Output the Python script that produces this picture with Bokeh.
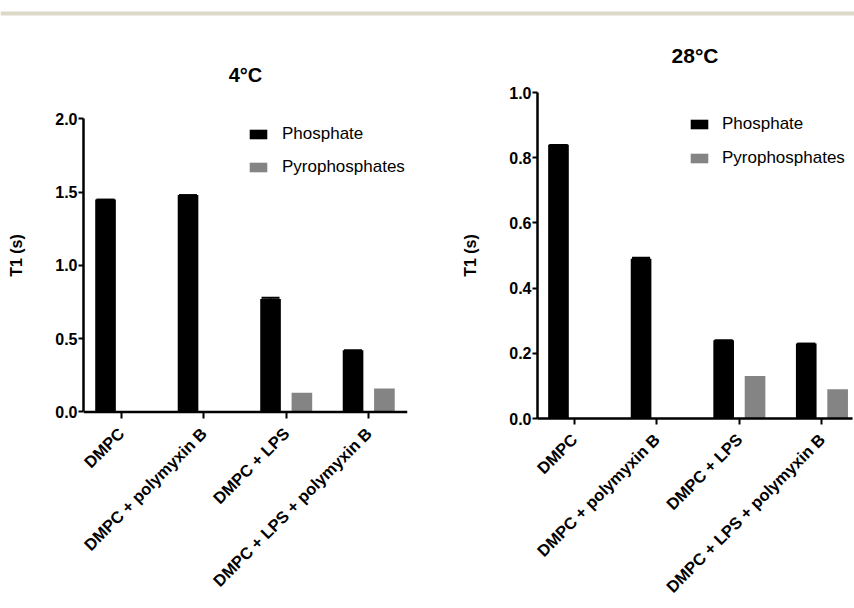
import math
import numpy as np
from bokeh.plotting import figure
from bokeh.models import (Range1d, FixedTicker, NumeralTickFormatter, Legend, LegendItem,
                          Whisker, ColumnDataSource, TeeHead, BoxAnnotation, Title, Span)
from bokeh.layouts import column, row
from bokeh.embed import file_html
from bokeh.resources import INLINE

# ---------------- data ----------------
categories = ["DMPC", "DMPC + polymyxin B", "DMPC + LPS", "DMPC + LPS + polymyxin B"]
series_names = ["Phosphate", "Pyrophosphates"]

phosphate_4C = [1.45, 1.48, 0.77, 0.42]
pyro_4C = [0.0, 0.0, 0.13, 0.16]
err_phosphate_4C = [0.0, 0.0, 0.01, 0.0]

phosphate_28C = [0.84, 0.49, 0.24, 0.23]
pyro_28C = [0.0, 0.0, 0.13, 0.09]
err_phosphate_28C = [0.0, 0.004, 0.0, 0.0]

yticks_4C = [0.0, 0.5, 1.0, 1.5, 2.0]
yticks_28C = [0.0, 0.2, 0.4, 0.6, 0.8, 1.0]

FONT = "Liberation Sans"
BLACK = "#000000"
GREY = "#848484"


def make_panel(title, phos, pyro, err, yticks, yr, base_gap, width, height, mb, xr,
               title_size, title_standoff, legend_loc, legend_spacing, label_standoff):
    x = np.arange(len(categories)) + 0.5
    phos = np.array(phos)
    src = ColumnDataSource(dict(
        x_phos=x - 0.19, x_pyro=x + 0.19, phos=phos, pyro=np.array(pyro),
        lower=phos, upper=phos + np.array(err)))
    p = figure(width=width, height=height, output_backend="svg", toolbar_location=None,
               x_range=Range1d(*xr), y_range=Range1d(*yr),
               min_border_left=mb[0], min_border_right=mb[1],
               min_border_top=mb[2], min_border_bottom=mb[3])
    p.add_layout(Title(text=title, align="center", text_font=FONT, text_font_size=title_size,
                       text_font_style="bold", text_color=BLACK, standoff=title_standoff), "above")
    r1 = p.vbar(x="x_phos", top="phos", width=0.25, source=src, fill_color=BLACK, line_color=None)
    r2 = p.vbar(x="x_pyro", top="pyro", width=0.25, source=src, fill_color=GREY, line_color=None)
    wh = Whisker(source=src, base="x_phos", lower="lower", upper="upper", dimension="height",
                 line_color=BLACK, line_width=1.5,
                 upper_head=TeeHead(size=18, line_color=BLACK, line_width=1.5),
                 lower_head=TeeHead(size=18, line_color=BLACK, line_width=1.5))
    p.add_layout(wh)

    p.grid.visible = False
    p.outline_line_color = None
    p.background_fill_color = "white"
    p.border_fill_color = "white"

    for ax in (p.xaxis[0], p.yaxis[0]):
        ax.axis_line_width = 2.5
        ax.axis_line_color = BLACK
        ax.major_tick_line_width = 2
        ax.major_tick_line_color = BLACK
        ax.major_tick_in = 0
        ax.minor_tick_line_color = None
        ax.major_label_text_font = FONT
        ax.major_label_text_font_style = "bold"
        ax.major_label_text_font_size = "16px"
        ax.major_label_text_color = BLACK

    xa = p.xaxis[0]
    xa.ticker = FixedTicker(ticks=list(x))
    xa.major_label_overrides = {float(v): c for v, c in zip(x, categories)}
    xa.major_label_orientation = math.pi / 4
    xa.major_label_text_font_size = "16.5px"
    xa.major_label_standoff = 12
    if base_gap > 0:
        # the zero line sits base_gap px above the frame bottom: draw it as a span,
        # and let the ticks run from it down to the frame edge
        xa.axis_line_color = None
        xa.major_tick_in = base_gap
        xa.major_tick_out = 0
        p.add_layout(Span(location=yticks[0], dimension="width", line_color=BLACK, line_width=2.5))
    else:
        xa.major_tick_out = 6

    ya = p.yaxis[0]
    ya.ticker = FixedTicker(ticks=yticks)
    ya.formatter = NumeralTickFormatter(format="0.0")
    ya.bounds = (yticks[0], yticks[-1])
    ya.major_tick_out = 5
    ya.major_label_standoff = 1
    ya.axis_label = "T1 (s)"
    ya.axis_label_text_font = FONT
    ya.axis_label_text_font_style = "bold"
    ya.axis_label_text_font_size = "16px"
    ya.axis_label_text_color = BLACK
    ya.axis_label_standoff = 27

    legend = Legend(items=[LegendItem(label=series_names[0], renderers=[r1]),
                           LegendItem(label=series_names[1], renderers=[r2])],
                    location=legend_loc, glyph_width=22, glyph_height=12,
                    label_text_font=FONT, label_text_font_size="17px", label_text_color=BLACK,
                    label_standoff=label_standoff, spacing=legend_spacing, padding=0, margin=0,
                    label_height=20, border_line_color=None, background_fill_alpha=0)
    p.add_layout(legend)
    return p


# both frames span the same vertical extent (the row aligns them);
# the 4°C axes sit inside it
left = make_panel("4°C", phosphate_4C, pyro_4C, err_phosphate_4C, yticks_4C, yr=(-0.045, 2.180),
                  base_gap=7, width=430, height=590, mb=(83, 23, 76, 188), xr=(0.043, 3.97),
                  title_size="20px", title_standoff=13, legend_loc=(164, 241),
                  legend_spacing=13, label_standoff=13)
right = make_panel("28°C", phosphate_28C, pyro_28C, err_phosphate_28C, yticks_28C, yr=(0.0, 1.0),
                   base_gap=0, width=424, height=590, mb=(107, 2, 76, 188), xr=(0.056, 3.87),
                   title_size="21px", title_standoff=51, legend_loc=(151, 250),
                   legend_spacing=14, label_standoff=12)

band = figure(width=854, height=16, output_backend="svg", toolbar_location=None,
              x_axis_type=None, y_axis_type=None, x_range=Range1d(0, 1), y_range=Range1d(0, 16),
              min_border=0)
band.outline_line_color = None
band.grid.visible = False
band.add_layout(BoxAnnotation(bottom=1, top=5, fill_color="#ddd8c8", fill_alpha=1, line_color=None))

layout = column(band, row(left, right))
open("out.html", "w").write(file_html(layout, INLINE))
